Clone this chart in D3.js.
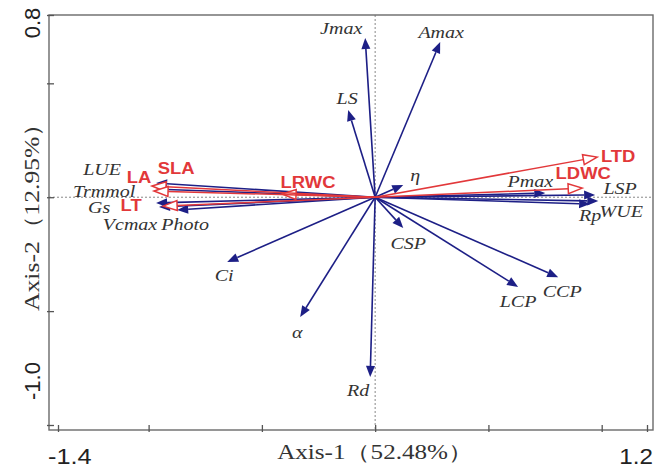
<!DOCTYPE html>
<html><head><meta charset="utf-8">
<script src="https://cdn.jsdelivr.net/npm/d3@7"></script>
<style>html,body{margin:0;padding:0;background:#fff}</style>
</head><body>
<svg id="chart" width="655" height="475"></svg>
<script>
// ---- data ----
const blueNames = ["Jmax","Amax","LS","η","Pmax","LSP","WUE","Rp","CSP","LCP","CCP","Rd","α","Ci","LUE","Trmmol","Gs","Vcmax","Photo"];
const blueAxis1 = [-0.044,0.287,-0.119,0.124,0.751,0.971,0.985,0.949,0.124,0.631,0.808,-0.022,-0.331,-0.653,-0.967,-0.967,-0.967,-0.954,-0.874];
const blueAxis2 = [0.699,0.681,0.383,0.054,0.018,0.010,-0.017,-0.030,-0.135,-0.394,-0.351,-0.789,-0.526,-0.284,0.062,0.036,-0.025,-0.043,-0.056];
const redNames = ["LTD","LDWC","LRWC","LA","SLA","LT"];
const redAxis1 = [0.980,0.914,-0.411,-0.985,-0.976,-0.936];
const redAxis2 = [0.176,0.040,0.014,0.049,0.027,-0.039];
const xTicks = [-1.4,-1,-0.5,0,0.5,1,1.2];
const yTicks = [-1,-0.5,0,0.5,0.8];
const xTickLabels = ["-1.4","1.2"];
const yTickLabels = ["0.8","-1.0"];
const xTitle = "Axis-1（52.48%）";
const yTitle = "Axis-2（12.95%）";

// ---- layout (pixel offsets of labels from arrow tips) ----
const labelOffset = {
  "Jmax":[-24,-10],"Amax":[1,-10],"LS":[-1,-12],"η":[12,-10],"Pmax":[-15,-12],
  "LSP":[25,-7],"WUE":[23,10],"Rp":[0,11],"CSP":[5,15],"LCP":[0,14],"CCP":[4,14],
  "Rd":[-12,13],"α":[-3,15],"Ci":[-3,13],"LUE":[-54,-14],"Trmmol":[-52,2],
  "Gs":[-57,4],"Vcmax":[-29,17],"Photo":[8,14],
  "LTD":[21,-1],"LDWC":[1,-15],"LRWC":[26,-12],"LA":[-13,-9],"SLA":[22,-23],"LT":[-32,-1]
};

const svg = d3.select("#chart");
const x = d3.scaleLinear().domain([-1.4,1.2]).range([58,647]);
const y = d3.scaleLinear().domain([-1.0,0.8]).range([425,15]);
const frame = {l:49, r:653, t:15, b:430};
const blue = "#1d1f86", red = "#e2383a", gray = "#333";

function stretch(sel, k){
  sel.each(function(){
    const L = this.getComputedTextLength();
    d3.select(this).attr("textLength", L*k).attr("lengthAdjust","spacingAndGlyphs");
  });
}

// zero lines
svg.append("line").attr("x1",x(0)).attr("x2",x(0)).attr("y1",frame.t).attr("y2",frame.b)
  .attr("stroke","#888").attr("stroke-width",1).attr("stroke-dasharray","2,2");
svg.append("line").attr("x1",frame.l).attr("x2",frame.r).attr("y1",y(0)).attr("y2",y(0))
  .attr("stroke","#888").attr("stroke-width",1).attr("stroke-dasharray","2,2");

// frame
svg.append("rect").attr("x",frame.l).attr("y",frame.t).attr("width",frame.r-frame.l).attr("height",frame.b-frame.t)
  .attr("fill","none").attr("stroke","#6a6a6a").attr("stroke-width",1.4);

// axes ticks
const xAxis = d3.axisBottom(x).tickValues(xTicks).tickSize(-5).tickFormat("");
const gx = svg.append("g").attr("transform",`translate(0,${frame.b})`).call(xAxis);
gx.select(".domain").remove();
gx.selectAll(".tick line").attr("stroke","#555").attr("stroke-width",1.3).attr("y1",2);
const yAxis = d3.axisLeft(y).tickValues(yTicks).tickSize(-5).tickFormat("");
const gy = svg.append("g").attr("transform",`translate(${frame.l},0)`).call(yAxis);
gy.select(".domain").remove();
gy.selectAll(".tick line").attr("stroke","#555").attr("stroke-width",1.3).attr("x1",-2);

// tick labels
const xl = svg.append("g").attr("font-family","'Liberation Sans',Arial,sans-serif").attr("font-size",22).attr("fill","#222");
xl.append("text").attr("x",x(-1.4)-10).attr("y",464).attr("text-anchor","start").text(xTickLabels[0]).call(stretch,1.15);
xl.append("text").attr("x",x(1.2)+6).attr("y",464).attr("text-anchor","end").text(xTickLabels[1]).call(stretch,1.1);
const yl = svg.append("g").attr("font-family","'Liberation Sans',Arial,sans-serif").attr("font-size",22).attr("fill","#222");
yl.append("text").attr("transform",`translate(40,${y(0.8)+8}) rotate(-90)`).attr("text-anchor","middle").text(yTickLabels[0]);
yl.append("text").attr("transform",`translate(40,${y(-1.0)-44}) rotate(-90)`).attr("text-anchor","middle").text(yTickLabels[1]);

// axis titles
svg.append("text").attr("x",x(0)).attr("y",459).attr("text-anchor","middle")
  .attr("font-family","'Liberation Serif','Times New Roman',serif").attr("font-size",20).attr("fill",gray)
  .text(xTitle).attr("textLength",196).attr("lengthAdjust","spacingAndGlyphs");
svg.append("text").attr("transform","translate(39,211) rotate(-90)").attr("text-anchor","middle")
  .attr("font-family","'Liberation Serif','Times New Roman',serif").attr("font-size",21).attr("fill",gray)
  .text(yTitle).attr("textLength",200).attr("lengthAdjust","spacingAndGlyphs");

// arrows
const blueData = blueNames.map((n,i)=>({name:n, a1:blueAxis1[i], a2:blueAxis2[i]}));
const redData = redNames.map((n,i)=>({name:n, a1:redAxis1[i], a2:redAxis2[i]}));

function head(d, len, hw){
  const x0 = x(0), y0 = y(0), tx = x(d.a1), ty = y(d.a2);
  const dx = tx-x0, dy = ty-y0, L = Math.hypot(dx,dy), ux = dx/L, uy = dy/L;
  const bx = tx-ux*len, by = ty-uy*len;
  return {tx,ty,bx,by,pts:[[tx,ty],[bx-uy*hw,by+ux*hw],[bx+uy*hw,by-ux*hw]]};
}

const gb = svg.append("g");
blueData.forEach(d=>{
  const h = head(d, 11, 4.5);
  gb.append("line").attr("x1",x(0)).attr("y1",y(0)).attr("x2",h.bx).attr("y2",h.by)
    .attr("stroke",blue).attr("stroke-width",1.6);
  gb.append("polygon").attr("points",h.pts.map(p=>p.join(",")).join(" ")).attr("fill",blue);
});
const gr = svg.append("g");
redData.forEach(d=>{
  const h = head(d, 14, 5);
  gr.append("line").attr("x1",x(0)).attr("y1",y(0)).attr("x2",h.bx).attr("y2",h.by)
    .attr("stroke",red).attr("stroke-width",1.5);
  gr.append("polygon").attr("points",h.pts.map(p=>p.join(",")).join(" "))
    .attr("fill","#fff").attr("stroke",red).attr("stroke-width",1.5).attr("stroke-linejoin","miter");
});

// labels
svg.append("g").selectAll("text").data(blueData).join("text")
  .attr("x",d=>x(d.a1)+labelOffset[d.name][0]).attr("y",d=>y(d.a2)+labelOffset[d.name][1])
  .attr("dy","0.35em").attr("text-anchor","middle")
  .attr("font-family","'Liberation Serif','Times New Roman',serif").attr("font-style","italic")
  .attr("font-size",16).attr("fill",gray).text(d=>d.name).call(stretch,1.25);
svg.append("g").selectAll("text").data(redData).join("text")
  .attr("x",d=>x(d.a1)+labelOffset[d.name][0]).attr("y",d=>y(d.a2)+labelOffset[d.name][1])
  .attr("dy","0.35em").attr("text-anchor","middle")
  .attr("font-family","'Liberation Sans',Arial,sans-serif").attr("font-weight","bold")
  .attr("font-size",16).attr("fill",red).text(d=>d.name).call(stretch,1.15);
</script>
</body></html>
